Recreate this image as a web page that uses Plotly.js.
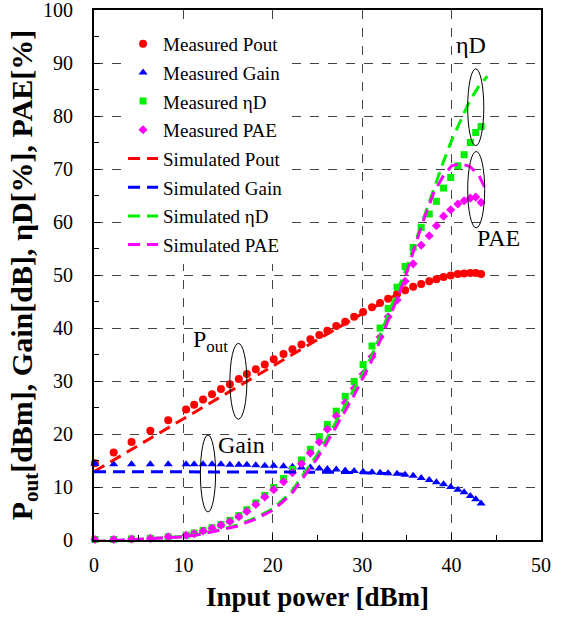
<!DOCTYPE html>
<html>
<head>
<meta charset="utf-8">
<script src="https://cdn.plot.ly/plotly-3.0.1.min.js"></script>
<style>html,body{margin:0;padding:0;background:#fff;}#chart{width:571px;height:619px;}</style>
</head>
<body>
<div id="chart"></div>
<script>
// Measured input power sweep [dBm]
const measPin = [0.1, 2.2, 4.2, 6.3, 8.3, 10.3, 11.2, 12.2, 13.2, 14.2, 15.2, 16.2, 17.1, 18.1, 19.1, 20.1, 21.2, 22.2, 23.2, 24.2, 25.2, 26.1, 27.1, 28.1, 29.1, 30.1, 31.1, 32.0, 32.9, 33.9, 34.8, 35.7, 36.6, 37.5, 38.3, 39.1, 39.9, 40.7, 41.4, 42.1, 42.7, 43.3];
const measPout = [14.5, 16.5, 18.5, 20.6, 22.6, 24.6, 25.5, 26.5, 27.5, 28.5, 29.4, 30.4, 31.3, 32.2, 33.1, 34.1, 35.1, 36.0, 36.9, 37.9, 38.7, 39.5, 40.4, 41.2, 42.1, 43.0, 43.9, 44.7, 45.5, 46.4, 47.1, 47.8, 48.3, 48.8, 49.2, 49.6, 49.9, 50.2, 50.3, 50.4, 50.4, 50.2];
const measGain = [14.4, 14.3, 14.3, 14.3, 14.3, 14.3, 14.3, 14.3, 14.3, 14.3, 14.2, 14.2, 14.2, 14.1, 14.0, 14.0, 13.9, 13.8, 13.7, 13.7, 13.5, 13.4, 13.3, 13.1, 13.0, 12.9, 12.8, 12.7, 12.6, 12.5, 12.3, 12.1, 11.7, 11.3, 10.9, 10.5, 10.0, 9.5, 9.0, 8.3, 7.7, 6.9];
const measDE = [0.1, 0.1, 0.2, 0.3, 0.6, 0.9, 1.3, 1.8, 2.3, 2.9, 3.7, 4.6, 5.7, 7.0, 8.4, 9.9, 11.6, 13.3, 15.1, 17.1, 19.5, 21.8, 24.3, 27.1, 29.9, 33.1, 36.6, 40.0, 43.7, 47.7, 51.6, 55.2, 59.0, 61.5, 63.9, 66.4, 68.4, 70.6, 72.7, 75.0, 76.9, 78.0];
const measPAE = [0.1, 0.1, 0.2, 0.3, 0.6, 0.9, 1.2, 1.7, 2.2, 2.8, 3.5, 4.4, 5.4, 6.7, 8.1, 9.5, 11.0, 12.7, 14.4, 16.4, 18.5, 20.9, 23.4, 25.9, 28.6, 31.3, 34.6, 38.3, 42.1, 45.3, 48.8, 52.1, 55.6, 57.4, 59.3, 61.1, 62.3, 63.4, 64.0, 64.5, 64.7, 63.7];

// Simulated sweeps
const simPinPG = [0, 5, 10, 15, 20, 25, 30, 33, 35];
const simPout = [12.9, 17.9, 22.9, 27.9, 32.9, 37.8, 42.7, 45.6, 47.4];
const simGain = [12.9, 12.9, 12.9, 12.9, 12.9, 12.8, 12.7, 12.6, 12.4];
const simPin = [0, 5, 10, 12, 14, 16, 18, 20, 22, 24, 25, 26, 27, 28, 29, 30, 31, 32, 33, 34, 35, 36, 37, 38, 39, 40, 41, 42, 43, 44];
const simDE = [-0.3, 0.1, 0.7, 1.2, 1.9, 2.8, 4.1, 5.9, 8.9, 13.8, 16.2, 19.0, 22.0, 25.0, 28.0, 31.2, 34.5, 38.5, 43.0, 47.3, 51.5, 56.5, 61.3, 66.3, 71.0, 75.4, 79.2, 82.8, 85.5, 87.5];
const simPAE = [-0.3, 0.1, 0.6, 1.1, 1.8, 2.6, 3.9, 5.6, 8.5, 13.2, 15.5, 18.2, 21.1, 24.0, 27.0, 30.3, 33.6, 37.6, 41.9, 45.8, 50.5, 56.0, 61.0, 65.5, 68.5, 70.6, 71.0, 70.5, 69.0, 65.5];

const serif = "Liberation Serif, Times New Roman, serif";
const dashPat = "12px,7px";

function meas(name, y, color, symbol, size) {
  return {x: measPin, y: y, name: name, mode: 'markers', type: 'scatter', cliponaxis: false,
    marker: {color: color, symbol: symbol, size: size, line: {width: 0}}, legendgroup: name};
}
function sim(name, x, y, color) {
  return {x: x, y: y, name: name, mode: 'lines', type: 'scatter', cliponaxis: false,
    line: {color: color, width: 3, dash: dashPat}, legendgroup: name};
}

const traces = [
  meas('Measured Pout', measPout, '#FF0000', 'circle', 8),
  meas('Measured Gain', measGain, '#0000FF', 'triangle-up', 8),
  meas('Measured ηD', measDE, '#00EE00', 'square', 7),
  meas('Measured PAE', measPAE, '#FF00FF', 'diamond', 7),
  sim('Simulated Pout', simPinPG, simPout, '#FF0000'),
  sim('Simulated Gain', simPinPG, simGain, '#0000FF'),
  sim('Simulated ηD', simPin, simDE, '#00EE00'),
  sim('Simulated PAE', simPin, simPAE, '#FF00FF')
];

const ell = (x0, x1, y0, y1) => ({type: 'circle', xref: 'x', yref: 'y', x0: x0, x1: x1, y0: y0, y1: y1,
  line: {color: '#000', width: 1}, fillcolor: 'rgba(0,0,0,0)', layer: 'above'});

const axisCommon = {
  showline: true, linecolor: '#000', linewidth: 2, mirror: true,
  ticks: 'inside', ticklen: 6, tickcolor: '#000', tickwidth: 1,
  showgrid: true, gridcolor: '#444', griddash: 'dash', gridwidth: 1,
  zeroline: false, tickfont: {family: serif, size: 20, color: '#000'},
  ticklabeloverflow: 'allow',
  minor: {dtick: 5, ticks: 'inside', ticklen: 5, tickcolor: '#000', showgrid: false}
};

const annFont = {family: serif, size: 24, color: '#000'};

const layout = {
  width: 571, height: 619,
  margin: {l: 94, r: 30, t: 10, b: 79},
  paper_bgcolor: '#fff', plot_bgcolor: '#fff',
  showlegend: true,
  legend: {x: 0.065, y: 0.972, xanchor: 'left', yanchor: 'top', bgcolor: '#fff', borderwidth: 0,
    font: {family: serif, size: 19, color: '#000'}, traceorder: 'grouped', tracegroupgap: 1, itemwidth: 30},
  xaxis: Object.assign({}, axisCommon, {range: [0, 50], dtick: 10, ticklabelstandoff: 6,
    title: {text: '<b>Input power [dBm]</b>', font: {family: serif, size: 27, color: '#000'}, standoff: 12}}),
  yaxis: Object.assign({}, axisCommon, {range: [0, 100], dtick: 10, ticklabelstandoff: 15,
    title: {text: '<b>P<sub>out</sub>[dBm], Gain[dB], ηD[%], PAE[%]</b>', font: {family: serif, size: 30, color: '#000'}, standoff: 2}}),
  shapes: [
    ell(15.2, 17.1, 22.8, 37.1),
    ell(11.9, 13.6, 5.3, 19.8),
    ell(41.8, 43.6, 74.4, 88.9),
    ell(41.8, 43.7, 58.9, 73.3)
  ],
  annotations: [
    {x: 13.0, y: 37.5, xref: 'x', yref: 'y', text: 'P<sub>out</sub>', showarrow: false, font: annFont},
    {x: 16.5, y: 17.9, xref: 'x', yref: 'y', text: 'Gain', showarrow: false, font: annFont},
    {x: 42.2, y: 93.4, xref: 'x', yref: 'y', text: 'ηD', showarrow: false, font: annFont},
    {x: 45.2, y: 56.9, xref: 'x', yref: 'y', text: 'PAE', showarrow: false, font: annFont}
  ]
};

Plotly.newPlot('chart', traces, layout, {displayModeBar: false, staticPlot: true});
</script>
</body>
</html>
